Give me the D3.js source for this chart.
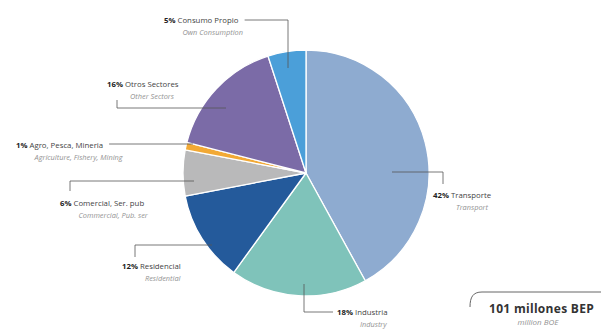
<!DOCTYPE html>
<html>
<head>
<meta charset="utf-8">
<script src="https://cdn.jsdelivr.net/npm/d3@7"></script>
<style>
  html, body { margin: 0; padding: 0; background: #fff; }
  svg { display: block; }
  text { font-family: "Open Sans", "Noto Sans", sans-serif; }
</style>
</head>
<body>
<svg id="chart" width="601" height="334"></svg>
<script>
// Energy consumption by sector (share of total, %)
const categories   = ["Transporte", "Industria", "Residencial", "Comercial, Ser. pub", "Agro, Pesca, Mineria", "Otros Sectores", "Consumo Propio"];
const categoriesEn = ["Transport", "Industry", "Residential", "Commercial, Pub. ser", "Agriculture, Fishery, Mining", "Other Sectors", "Own Consumption"];
const shares       = [42, 18, 12, 6, 1, 16, 5];
const sliceColors  = ["#8eabd0", "#7fc3ba", "#245a9b", "#b9b9ba", "#f2a935", "#7b6ba7", "#4b9fd9"];
const totalValue   = "101 millones BEP";
const totalUnitEn  = "million BOE";

// Label placement: text anchor (x, baseline) and leader-line elbows.
// A leader starting with null begins at the end of the label's first line.
const labelLayout = [
  { x: 433, y: 198, leader: [[392, 172], [443, 172], [443, 184]] },
  { x: 337, y: 315, leader: [[304, 284], [304, 312], [333, 312]] },
  { x: 122, y: 269, leader: [[135, 257], [135, 245], [212, 245]] },
  { x: 60,  y: 206, leader: [[70, 191], [70, 181], [194, 181]] },
  { x: 16,  y: 148, leader: [null, [193, 144]] },
  { x: 107, y: 87,  leader: [[117, 100], [117, 108], [226, 108]] },
  { x: 164, y: 23,  leader: [null, [288, 20], [288, 68]] }
];

const svg = d3.select("#chart");
const cx = 306, cy = 173, radius = 123;

const pie = d3.pie().sort(null).value(d => d).startAngle(0).endAngle(2 * Math.PI);
const arc = d3.arc().innerRadius(0).outerRadius(radius);

const g = svg.append("g").attr("transform", `translate(${cx},${cy})`);
g.selectAll("path.slice")
  .data(pie(shares))
  .join("path")
  .attr("class", "slice")
  .attr("d", arc)
  .attr("fill", (d, i) => sliceColors[i])
  .attr("stroke", "#ffffff")
  .attr("stroke-width", 1.3)
  .attr("stroke-linejoin", "round");

const line = d3.line();
const labels = svg.append("g");

categories.forEach((name, i) => {
  const lay = labelLayout[i];
  const t = labels.append("text")
    .attr("x", lay.x).attr("y", lay.y)
    .attr("font-size", 7.8).attr("fill", "#444");
  const pct = t.append("tspan").attr("font-weight", 700).attr("fill", "#222").text(shares[i] + "%");
  t.append("tspan").text(" " + name);
  const pctW = pct.node().getComputedTextLength();
  labels.append("text")
    .attr("x", lay.x + pctW + 7).attr("y", lay.y + 12)
    .attr("font-size", 7.4).attr("font-style", "italic").attr("fill", "#939393")
    .text(categoriesEn[i]);

  const pts = lay.leader.slice();
  if (pts[0] === null) {
    const bb = t.node().getBBox();
    pts[0] = [bb.x + bb.width + 6, pts[1][1]];
  }
  labels.append("path")
    .attr("d", line(pts))
    .attr("fill", "none").attr("stroke", "#555").attr("stroke-width", 0.8);
});

// Total volume callout (bottom right)
svg.append("path")
  .attr("d", "M470,307 C470,297 473,292 482,292 L601,292")
  .attr("fill", "none").attr("stroke", "#555").attr("stroke-width", 0.9);
svg.append("text")
  .attr("x", 489).attr("y", 313)
  .attr("font-size", 12).attr("font-weight", 700).attr("letter-spacing", 0.3).attr("fill", "#333")
  .text(totalValue);
svg.append("text")
  .attr("x", 538).attr("y", 325).attr("text-anchor", "middle")
  .attr("font-size", 8).attr("font-style", "italic").attr("fill", "#939393")
  .text(totalUnitEn);
</script>
</body>
</html>
